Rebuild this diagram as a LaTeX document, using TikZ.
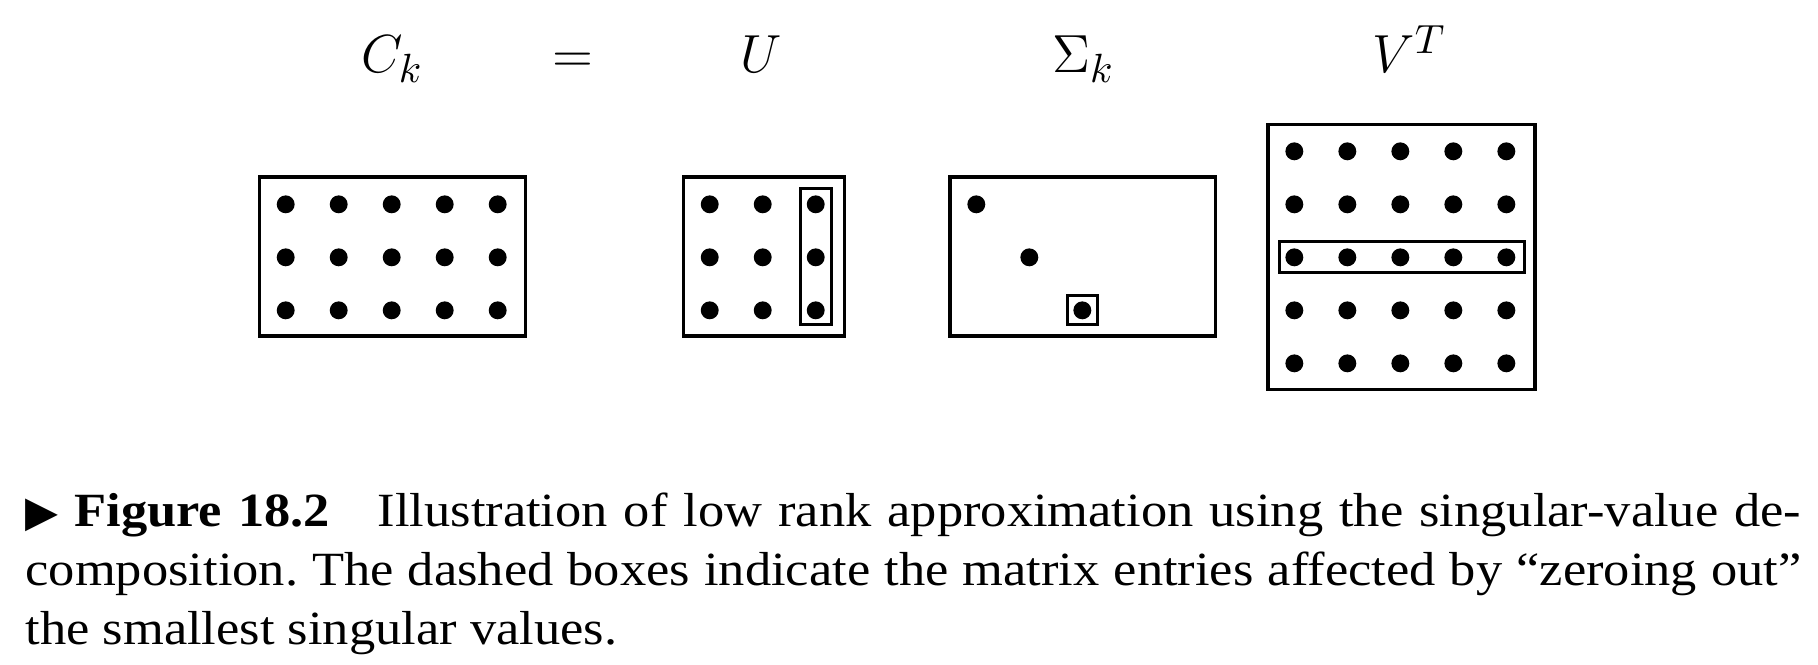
\documentclass[tikz,border=0pt]{standalone}
\usepackage{amsmath}
\usepackage[no-math]{fontspec}
\setmainfont{Liberation Serif}[FakeStretch=1.1]
\newfontfamily\symbfont{DejaVu Sans}
\usepackage{tikz}

\begin{document}
\frenchspacing
\begin{tikzpicture}[x=0.5cm,y=0.5cm,
  matbox/.style={line width=0.9pt},
  zerobox/.style={line width=0.8pt},
  matlabel/.style={anchor=base,inner sep=0pt,font=\fontsize{15.3}{18}\selectfont}]
  \useasboundingbox (0,0) rectangle (34.30,-12.53);

  \node [matlabel] (ck) at (7.40,-1.377) {$C_k$};
  \node [matlabel] (eq) at (10.81,-1.377) {$=$};
  \node [matlabel] (u) at (14.36,-1.377) {$U$};
  \node [matlabel] (sigmak) at (20.44,-1.377) {$\Sigma_k$};
  \node [matlabel] (vt) at (26.59,-1.377) {$V^T$};

  % C_k
  \draw [matbox] (4.89,-3.34) rectangle (9.92,-6.34);
  \foreach \x in {0,...,4}
    \foreach \y in {0,1,2}
      \filldraw [black] (5.39+\x,-3.855-\y) circle (2.2pt);

  % U
  \draw [matbox] (12.90,-3.34) rectangle (15.93,-6.34);
  \foreach \x in {0,1,2}
    \foreach \y in {0,1,2}
      \filldraw [black] (13.39+\x,-3.855-\y) circle (2.2pt);
  \draw [zerobox] (15.11,-3.55) rectangle (15.69,-6.13);

  % Sigma_k
  \draw [matbox] (17.92,-3.34) rectangle (22.93,-6.34);
  \foreach \i in {0,1,2}
    \filldraw [black] (18.42+\i,-3.855-\i) circle (2.2pt);
  \draw [zerobox] (20.14,-5.57) rectangle (20.71,-6.13);

  % V^T
  \draw [matbox] (23.92,-2.345) rectangle (28.96,-7.345);
  \foreach \x in {0,...,4}
    \foreach \y in {0,...,4}
      \filldraw [black] (24.42+\x,-2.855-\y) circle (2.2pt);
  \draw [zerobox] (24.14,-4.55) rectangle (28.77,-5.15);

  \node [anchor=base west, inner sep=0pt, text width=16.75cm, align=justify,
    font=\fontsize{12.8}{15.84}\selectfont] (caption) at (0.47,-9.94)
    {{\symbfont\fontsize{11.5}{12}\selectfont ▶} \textbf{Figure 18.2}\quad Illustration of low rank approximation using the singular-value de-\linebreak
    composition. The dashed boxes indicate the matrix entries affected by ``zeroing out''\linebreak
    the smallest singular values.};
\end{tikzpicture}
\end{document}
